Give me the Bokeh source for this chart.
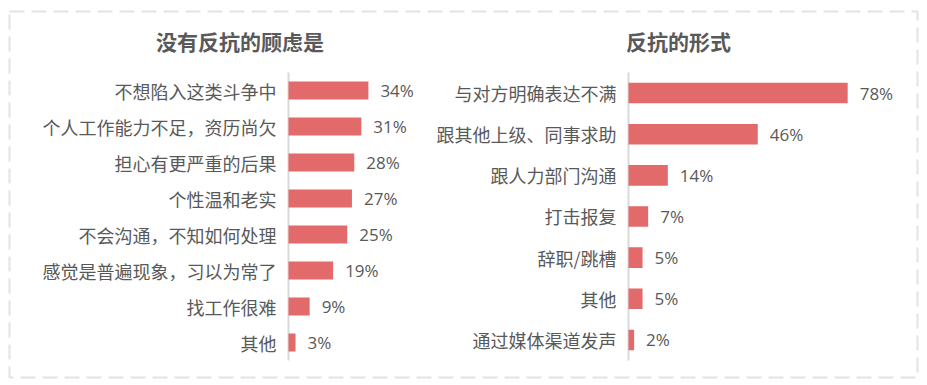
import numpy as np
from bokeh.plotting import figure
from bokeh.models import Range1d, ColumnDataSource
from bokeh.core.properties import value
from bokeh.embed import file_html
from bokeh.resources import INLINE

# ---------------- data ----------------
left_title = "没有反抗的顾虑是"
left_categories = ["不想陷入这类斗争中", "个人工作能力不足，资历尚欠", "担心有更严重的后果",
                   "个性温和老实", "不会沟通，不知如何处理", "感觉是普遍现象，习以为常了",
                   "找工作很难", "其他"]
left_values = [34, 31, 28, 27, 25, 19, 9, 3]

right_title = "反抗的形式"
right_categories = ["与对方明确表达不满", "跟其他上级、同事求助", "跟人力部门沟通",
                    "打击报复", "辞职/跳槽", "其他", "通过媒体渠道发声"]
right_values = [78, 46, 14, 7, 5, 5, 2]

# ---------------- layout constants (pixels) ----------------
W, H = 927, 385
FL, FR, FT, FB = 9, 917, 11, 377          # frame box (dashed border)
FW, FH = FR - FL, FB - FT

FONT = value("Noto Sans CJK SC")
NUMFONT = value("Open Sans")
TXT = "#595959"
BAR = "#e26a6a"
AXC = "#d9d9d9"

# left panel geometry
L_ZERO, L_SCALE = 288, 2.35     # px position of 0, px per %
L_ROW0, L_ROWH = 90, 36         # center of first row, row height
# right panel geometry
R_ZERO, R_SCALE = 628, 2.81
R_ROW0, R_ROWH = 92.57, 288 / 7

def xr(zero, scale):
    start = -(zero - FL) / scale
    return Range1d(start=start, end=start + FW / scale)

def yr(row0, rowh):
    top = -(row0 - FT) / rowh
    return Range1d(start=top + FH / rowh, end=top)

p = figure(width=W, height=H, output_backend="svg", toolbar_location=None,
           x_axis_type=None, y_axis_type=None,
           x_range=xr(L_ZERO, L_SCALE), y_range=yr(L_ROW0, L_ROWH),
           min_border_left=FL, min_border_right=W - FR,
           min_border_top=FT, min_border_bottom=H - FB)
p.extra_x_ranges = {"rx": xr(R_ZERO, R_SCALE)}
p.extra_y_ranges = {"ry": yr(R_ROW0, R_ROWH)}
p.grid.visible = False
p.outline_line_color = "#e3e3e3"
p.outline_line_width = 2
p.outline_line_dash = "15 7"
p.background_fill_color = "white"
p.border_fill_color = "white"


def panel(cats, vals, xname, yname):
    n = len(cats)
    src = ColumnDataSource(dict(y=np.arange(n), v=vals, cat=cats,
                                lab=[f"{v}%" for v in vals]))
    kw = {}
    if xname:
        kw = dict(x_range_name=xname, y_range_name=yname)
    # axis line
    p.segment(x0=[0], y0=[-0.5], x1=[0], y1=[n - 0.5], line_color=AXC,
              line_width=2, **kw)
    # bars
    p.hbar(y="y", left=0, right="v", height=0.5, source=src,
           fill_color=BAR, line_color=None, **kw)
    # category labels
    p.text(x=0, y="y", text="cat", source=src, x_offset=-12,
           text_align="right", text_baseline="middle", text_font=FONT,
           text_font_size="18px", text_color=TXT, **kw)
    # value labels
    p.text(x="v", y="y", text="lab", source=src, x_offset=12,
           text_align="left", text_baseline="middle", text_font=NUMFONT,
           text_font_size="17px", text_color=TXT, **kw)
    return src


panel(left_categories, left_values, None, None)
panel(right_categories, right_values, "rx", "ry")

# titles (placed at pixel positions converted into each panel's data space)
TITLE_Y = 40
p.text(x=[(239.5 - L_ZERO) / L_SCALE], y=[(TITLE_Y - L_ROW0) / L_ROWH],
       text=[left_title], text_align="center", text_baseline="middle",
       text_font=FONT, text_font_size="21px", text_font_style="bold",
       text_color=TXT)
p.text(x=[(678 - R_ZERO) / R_SCALE], y=[(TITLE_Y - R_ROW0) / R_ROWH],
       text=[right_title], text_align="center", text_baseline="middle",
       text_font=FONT, text_font_size="21px", text_font_style="bold",
       text_color=TXT, x_range_name="rx", y_range_name="ry")

open("out.html", "w").write(file_html(p, INLINE))
